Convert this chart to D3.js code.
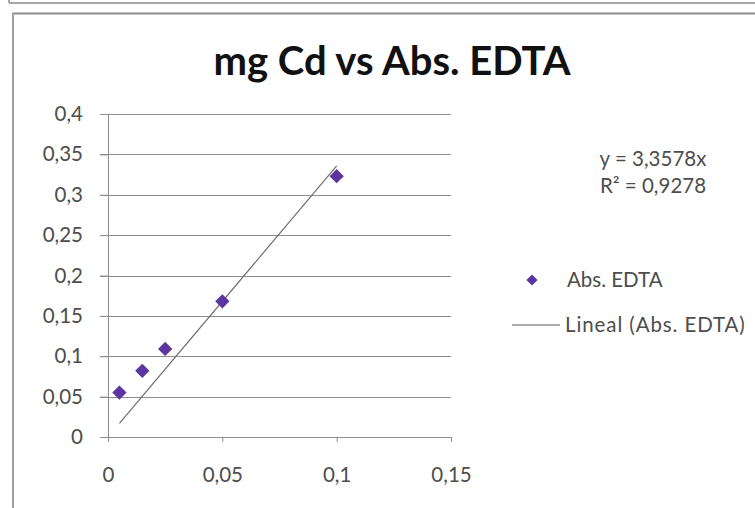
<!DOCTYPE html>
<html><head><meta charset="utf-8">
<script src="https://cdn.jsdelivr.net/npm/d3@7"></script>
<style>body{margin:0;background:#fff}svg{display:block}</style>
</head><body>
<script>
const xValues = [0.005, 0.015, 0.025, 0.05, 0.1];
const yValues = [0.055, 0.082, 0.109, 0.168, 0.323];
const xTicks = [0, 0.05, 0.1, 0.15];
const yTicks = [0, 0.05, 0.1, 0.15, 0.2, 0.25, 0.3, 0.35, 0.4];
const slope = 3.3578;
const titleText = "mg Cd vs Abs. EDTA";
const seriesName = "Abs. EDTA";
const trendName = "Lineal (Abs. EDTA)";
const eqLines = ["y = 3,3578x", "R² = 0,9278"];

const W = 755, H = 508;
const font = "Lato, 'Open Sans', sans-serif";
const fs = "20.5px";
const svg = d3.select("body").append("svg").attr("width", W).attr("height", H);

// frames
svg.append("rect").attr("x",0).attr("y",0).attr("width",W).attr("height",H).attr("fill","#fff");
svg.append("line").attr("x1",9).attr("x2",W).attr("y1",3).attr("y2",3).attr("stroke","#a6a6a6").attr("stroke-width",2);
svg.append("line").attr("x1",9).attr("x2",9).attr("y1",0).attr("y2",3).attr("stroke","#a6a6a6").attr("stroke-width",2);
svg.append("line").attr("x1",12).attr("x2",W).attr("y1",13.5).attr("y2",13.5).attr("stroke","#8c8c8c").attr("stroke-width",2);
svg.append("line").attr("x1",13).attr("x2",13).attr("y1",13).attr("y2",H).attr("stroke","#a0a0a0").attr("stroke-width",2);

const x = d3.scaleLinear().domain([0, 0.15]).range([108, 451]);
const y = d3.scaleLinear().domain([0, 0.4]).range([437, 114]);
const fmt = d => String(+d.toFixed(2)).replace(".", ",");

// gridlines
svg.append("g").selectAll("line").data(yTicks.filter(d => d > 0)).join("line")
  .attr("x1", 100).attr("x2", x(0.15)).attr("y1", d => Math.round(y(d)) + 0.5).attr("y2", d => Math.round(y(d)) + 0.5)
  .attr("stroke", "#8e8e8e").attr("stroke-width", 1);

// y axis
const yAxis = svg.append("g").attr("transform", `translate(${x(0)},0)`)
  .call(d3.axisLeft(y).tickValues(yTicks).tickFormat(fmt).tickSize(8).tickPadding(17));
// x axis
const xAxis = svg.append("g").attr("transform", `translate(0,${y(0)})`)
  .call(d3.axisBottom(x).tickValues(xTicks).tickFormat(fmt).tickSize(5).tickPadding(25));
[yAxis, xAxis].forEach(a => {
  a.select(".domain").attr("stroke", "#8e8e8e");
  a.selectAll(".tick line").attr("stroke", "#8e8e8e");
  a.selectAll("text").attr("fill", "#4d4d4d").style("font-family", font).style("font-size", fs);
});
xAxis.select(".domain").attr("d", `M${x(0)},0.5H${x(0.15)}`);
yAxis.select(".domain").attr("d", `M0.5,${y(0.4)}V${y(0)}`);

// trendline
svg.append("line")
  .attr("x1", x(d3.min(xValues))).attr("y1", y(slope * d3.min(xValues)))
  .attr("x2", x(d3.max(xValues))).attr("y2", y(slope * d3.max(xValues)))
  .attr("stroke", "#6e6e6e").attr("stroke-width", 1.2);

// points
const diamond = d3.symbol().type(d3.symbolDiamond2).size(130);
svg.append("g").selectAll("path").data(xValues.map((v, i) => [v, yValues[i]])).join("path")
  .attr("d", diamond).attr("transform", d => `translate(${x(d[0])},${y(d[1])})`)
  .attr("fill", "#5b36a0");

// title
svg.append("text").attr("x", 392).attr("y", 75).attr("text-anchor", "middle")
  .style("font-family", font).style("font-weight", "bold").style("font-size", "40px").attr("fill", "#111")
  .text(titleText);

// equation
svg.append("g").selectAll("text").data(eqLines).join("text")
  .attr("x", 653).attr("y", (d, i) => 166 + i * 27).attr("text-anchor", "middle")
  .style("font-family", font).style("font-size", fs).attr("fill", "#4d4d4d")
  .text(d => d);

// legend
svg.append("path").attr("d", d3.symbol().type(d3.symbolDiamond2).size(80))
  .attr("transform", "translate(532,280)").attr("fill", "#5b36a0");
svg.append("text").attr("x", 567).attr("y", 286.5).style("font-family", font).style("font-size", fs)
  .attr("fill", "#4d4d4d").text(seriesName);
svg.append("line").attr("x1", 512).attr("x2", 560).attr("y1", 325).attr("y2", 325).attr("stroke", "#555").attr("stroke-width", 1.2);
svg.append("text").attr("x", 565).attr("y", 332).style("font-family", font).style("font-size", fs)
  .style("letter-spacing", "0.9px").attr("fill", "#4d4d4d").text(trendName);
</script>
</body></html>
